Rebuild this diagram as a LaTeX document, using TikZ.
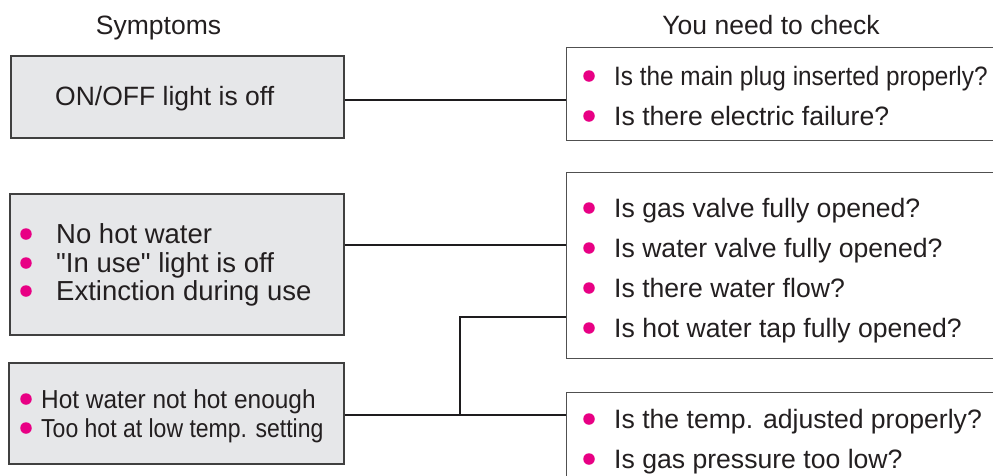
\documentclass[tikz,border=0pt]{standalone}
\usepackage{fontspec}
\setmainfont{Liberation Sans}[Ligatures=TeXOff]
\usepackage{graphicx}
\definecolor{boxfill}{RGB}{230,231,233}
\definecolor{boxline}{RGB}{64,64,64}
\definecolor{chkline}{RGB}{80,80,80}
\definecolor{connline}{RGB}{30,28,30}
\definecolor{bul}{RGB}{232,0,132}
\definecolor{txtcol}{RGB}{35,31,32}
\begin{document}
\begin{tikzpicture}[x=1pt,y=-1pt,
  symbox/.style={draw=boxline, fill=boxfill, line width=1.6pt, inner sep=0pt, anchor=north west},
  chkbox/.style={draw=chkline, fill=white, line width=1.4pt, inner sep=0pt, anchor=north west},
  conn/.style={draw=connline, line width=2pt},
  dot/.style={circle, fill=bul, inner sep=0pt, minimum size=11.5pt},
  hdr/.style={anchor=base, inner sep=0pt, text=txtcol, font=\fontsize{26.5}{30}\selectfont},
  rtxt/.style={anchor=base west, inner sep=0pt, text=txtcol, font=\fontsize{26.6}{30}\selectfont},
  ltxt/.style={anchor=base west, inner sep=0pt, text=txtcol, font=\fontsize{27.5}{30}\selectfont},
  stxt/.style={anchor=base west, inner sep=0pt, text=txtcol, font=\fontsize{26}{28}\selectfont}]
\clip (0,0) rectangle (993,475);
\fill[white] (0,0) rectangle (993,475);

% headers
\node[hdr] (h1) at (158.5,34) {Symptoms};
\node[hdr] (h2) at (771,34) {You need to check};

% symptom boxes
\node[symbox, minimum width=333pt, minimum height=82pt] (s1) at (10,55) {};
\node[symbox, minimum width=334pt, minimum height=141pt] (s2) at (9,193) {};
\node[symbox, minimum width=335pt, minimum height=101pt] (s3) at (8,362) {};

% check boxes
\node[chkbox, minimum width=440pt, minimum height=93pt] (c1) at (566,47) {};
\node[chkbox, minimum width=440pt, minimum height=186pt] (c2) at (566,172) {};
\node[chkbox, minimum width=440pt, minimum height=110pt] (c3) at (566,392) {};

% symptom texts
\node[hdr, anchor=base west] (t1) at (55,105) {ON/OFF light is off};

\node[dot] (b21) at (26,234) {};
\node[dot] (b22) at (26,263) {};
\node[dot] (b23) at (26,291) {};
\node[ltxt] (t21) at (56,243.8) {No hot water};
\node[ltxt] (t22) at (56,272.8) {"In use" light is off};
\node[ltxt] (t23) at (56,300.8) {Extinction during use};

\node[dot] (b31) at (26,399) {};
\node[dot] (b32) at (26,428) {};
\node[stxt] (t31) at (41,408.3) {\scalebox{0.94}[1]{Hot water not hot enough}};
\node[stxt] (t32) at (41,437.3) {\scalebox{0.885}[1]{Too hot at low temp. setting}};

% check texts
\node[dot] (d11) at (589,76) {};
\node[dot] (d12) at (589,116) {};
\node[rtxt] (r11) at (614,85.5) {\scalebox{0.915}[1]{Is the main plug inserted properly?}};
\node[rtxt] (r12) at (614,125.5) {Is there electric failure?};

\node[dot] (d21) at (589,208) {};
\node[dot] (d22) at (589,248) {};
\node[dot] (d23) at (589,288) {};
\node[dot] (d24) at (589,328) {};
\node[rtxt] (r21) at (614,217.5) {Is gas valve fully opened?};
\node[rtxt] (r22) at (614,257.5) {Is water valve fully opened?};
\node[rtxt] (r23) at (614,297.5) {Is there water flow?};
\node[rtxt] (r24) at (614,337.5) {Is hot water tap fully opened?};

\node[dot] (d31) at (589,419) {};
\node[dot] (d32) at (589,459) {};
\node[rtxt] (r31) at (614,428.5) {Is the temp. adjusted properly?};
\node[rtxt] (r32) at (614,468.5) {Is gas pressure too low?};

% connectors
\coordinate (p1) at ([yshift=-3pt]s1.east);
\coordinate (p2) at ([yshift=19.5pt]s2.east);
\coordinate (p3) at ([yshift=-1.5pt]s3.east);
\coordinate (j3) at (460,317);
\draw[conn] (p1) -- (p1 -| c1.west);
\draw[conn] (p2) -- (p2 -| c2.west);
\draw[conn] (p3) -- (p3 -| c3.west);
\draw[conn] (j3 |- p3) -- (j3) -- (j3 -| c2.west);
\end{tikzpicture}
\end{document}
